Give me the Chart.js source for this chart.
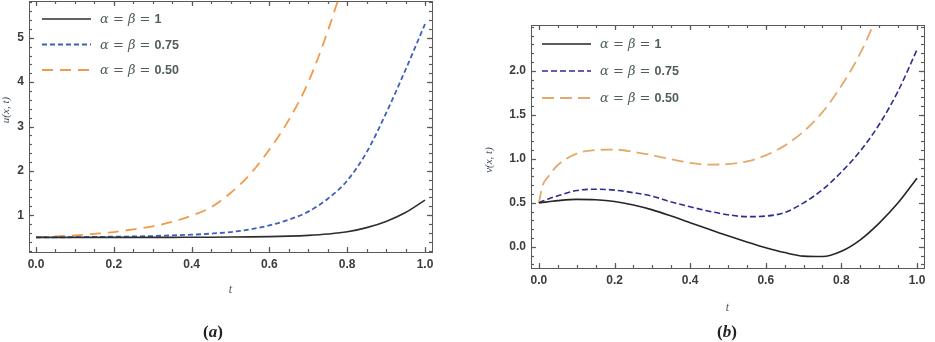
<!DOCTYPE html>
<html><head><meta charset="utf-8">
<script src="https://cdn.jsdelivr.net/npm/chart.js@4.4.1/dist/chart.umd.min.js"></script>
<style>
html,body{margin:0;padding:0;background:#fff;width:935px;height:342px;overflow:hidden;position:relative}
canvas{position:absolute;top:0}
#ca{left:0}
#cb{left:470px}
.cap{position:absolute;top:322px;font:bold 17px 'Liberation Serif',serif;color:#222;transform:translateX(-50%);line-height:20px}
.cap i{font-style:italic}
</style></head><body>
<canvas id="ca" width="470" height="342"></canvas>
<canvas id="cb" width="465" height="342"></canvas>
<div class="cap" style="left:213px">(<i>a</i>)</div>
<div class="cap" style="left:727px">(<i>b</i>)</div>
<script>
// ---------- data ----------
const seriesLabels = ['α = β = 1', 'α = β = 0.75', 'α = β = 0.50'];

// panel (a): u(x,t)
const tA = [0,0.05,0.1,0.15,0.2,0.25,0.3,0.35,0.4,0.45,0.5,0.55,0.6,0.65,0.7,0.75,0.8,0.85,0.9,0.95,1.0];
const uAlpha100 = [0.5,0.5,0.5,0.5,0.5,0.5,0.5,0.5,0.502,0.504,0.507,0.511,0.517,0.527,0.545,0.575,0.625,0.72,0.86,1.06,1.34];
const uAlpha075 = [0.5,0.5,0.505,0.51,0.515,0.52,0.53,0.545,0.56,0.585,0.62,0.68,0.77,0.9,1.08,1.37,1.78,2.42,3.3,4.28,5.31];
const uAlpha050 = [0.5,0.52,0.545,0.58,0.62,0.68,0.75,0.85,0.99,1.18,1.5,1.92,2.48,3.15,4.0,5.15,6.5,null,null,null,null];
const xTicksA = [0,0.2,0.4,0.6,0.8,1.0];
const yTicksA = [1,2,3,4,5];

// panel (b): v(x,t)
const tB = [0,0.01,0.025,0.05,0.1,0.15,0.2,0.25,0.3,0.35,0.4,0.45,0.5,0.55,0.6,0.65,0.7,0.75,0.8,0.85,0.9,0.95,1.0];
const vAlpha100 = [0.5,0.505,0.512,0.525,0.54,0.535,0.515,0.475,0.42,0.35,0.275,0.2,0.125,0.055,-0.01,-0.065,-0.105,-0.11,-0.05,0.08,0.27,0.5,0.78];
const vAlpha075 = [0.5,0.52,0.545,0.58,0.64,0.655,0.645,0.615,0.575,0.51,0.455,0.405,0.365,0.343,0.35,0.39,0.5,0.65,0.85,1.09,1.39,1.77,2.24];
const vAlpha050 = [0.5,0.7,0.8,0.93,1.06,1.1,1.105,1.08,1.04,0.995,0.955,0.935,0.94,0.97,1.04,1.15,1.31,1.53,1.83,2.2,2.68,3.2,null];
const xTicksB = [0,0.2,0.4,0.6,0.8,1.0];
const yTicksB = [0,0.5,1.0,1.5,2.0];

// ---------- helpers ----------
const frameColor = '#5a5a5a';
const tickColor = '#3c3c3c';
const tickFont = {family: "'Liberation Sans', sans-serif", size: 12, weight: 'bold'};

function steps(from, to, step) {
  const r = [];
  for (let i = 0; from + i * step <= to + 1e-9; i++) r.push(+(from + i * step).toFixed(4));
  return r;
}

function build(id, t, series, style, cfg) {
  const datasets = series.map((vals, i) => ({
    label: seriesLabels[i],
    data: t.map((tv, j) => ({x: tv, y: vals[j]})),
    borderColor: style.colors[i], borderDash: style.dashes[i], borderWidth: style.widths[i],
    pointRadius: 0, fill: false, cubicInterpolationMode: 'monotone', spanGaps: false,
    xAxisID: 'x', yAxisID: 'y'
  }));

  // inward frame ticks on all four sides (positions from the chart's own scales)
  const frameTicks = {
    id: 'frameTicks_' + id,
    afterDraw(chart) {
      const ctx = chart.ctx, a = chart.chartArea;
      const x = chart.scales.x, y = chart.scales.y;
      const segs = [];
      const xs = (vals, len) => vals.forEach(v => {
        const p = Math.round(x.getPixelForValue(v)) + 0.5;
        segs.push([p, a.bottom, p, a.bottom - len], [p, a.top, p, a.top + len]);
      });
      const ys = (vals, len) => vals.forEach(v => {
        const p = Math.round(y.getPixelForValue(v)) + 0.5;
        segs.push([a.left, p, a.left + len, p], [a.right, p, a.right - len, p]);
      });
      xs(cfg.xTicks, 5); xs(steps(0, 1, 0.05), 3);
      ys(cfg.yTicks, 5); ys(steps(cfg.yMinor[0], cfg.yMinor[1], cfg.yMinor[2]), 3);
      ctx.save();
      ctx.setLineDash([]);
      ctx.strokeStyle = frameColor;
      ctx.lineWidth = 1.2;
      segs.forEach(s => {
        ctx.beginPath(); ctx.moveTo(s[0], s[1]); ctx.lineTo(s[2], s[3]); ctx.stroke();
      });
      ctx.restore();
    }
  };

  const insideLegend = {
    id: 'insideLegend_' + id,
    afterDraw(chart) {
      const ctx = chart.ctx, o = cfg.legend;
      ctx.save();
      chart.data.datasets.forEach((ds, i) => {
        const yy = o.y0 + i * o.dy;
        ctx.strokeStyle = ds.borderColor; ctx.lineWidth = ds.borderWidth;
        ctx.setLineDash(ds.borderDash || []);
        ctx.beginPath(); ctx.moveTo(o.x, yy); ctx.lineTo(o.x + o.len, yy); ctx.stroke();
        ctx.setLineDash([]);
        const k = ds.label.lastIndexOf('= ') + 2;
        const head = ds.label.slice(0, k), num = ds.label.slice(k);
        ctx.fillStyle = o.color; ctx.textBaseline = 'middle';
        ctx.font = "italic 13px 'DejaVu Serif'";
        ctx.fillText(head, o.tx, yy + 1);
        const w = ctx.measureText(head).width;
        ctx.font = "bold 12.5px 'Liberation Sans'";
        ctx.fillText(num, o.tx + w, yy + 1);
      });
      ctx.restore();
    }
  };

  const yTitle = {
    id: 'yTitle_' + id,
    afterDraw(chart) {
      const ctx = chart.ctx, o = cfg.yTitle;
      ctx.save();
      ctx.translate(o.x, o.y); ctx.rotate(-Math.PI / 2);
      ctx.font = "italic 11px 'Liberation Serif'";
      ctx.fillStyle = o.color; ctx.textAlign = 'center'; ctx.textBaseline = 'middle';
      ctx.fillText(o.text, 0, 0);
      ctx.restore();
    }
  };

  const edge = (pos, fit) => ({
    type: 'linear', position: pos, display: true,
    min: pos === 'top' ? cfg.xMin : cfg.yMin, max: pos === 'top' ? cfg.xMax : cfg.yMax,
    grid: {display: false, drawTicks: false}, ticks: {display: false},
    border: {display: true, color: frameColor, width: 1},
    afterFit: fit
  });

  new Chart(document.getElementById(id), {
    type: 'line',
    data: {datasets},
    options: {
      responsive: false, animation: false, events: [],
      layout: {padding: cfg.padding},
      plugins: {legend: {display: false}, tooltip: {enabled: false}},
      scales: {
        x: {
          type: 'linear', position: 'bottom', min: cfg.xMin, max: cfg.xMax,
          afterBuildTicks: s => { s.ticks = cfg.xTicks.map(v => ({value: v})); },
          afterFit: s => { s.height = 50; s.paddingLeft = 0; s.paddingRight = 0; },
          grid: {display: false, drawTicks: false},
          border: {display: true, color: frameColor, width: 1},
          ticks: {padding: 5, color: tickColor, font: tickFont, autoSkip: false, maxRotation: 0, callback: v => Number(v).toFixed(1)},
          title: {display: true, text: 't', color: '#4a5866', font: {family: "'Liberation Serif', serif", style: 'italic', size: 12}, padding: {top: 0, bottom: cfg.tPad}}
        },
        y: {
          type: 'linear', position: 'left', min: cfg.yMin, max: cfg.yMax,
          afterBuildTicks: s => { s.ticks = cfg.yTicks.map(v => ({value: v})); },
          afterFit: s => { s.width = cfg.yWidth; s.paddingTop = 0; s.paddingBottom = 0; },
          grid: {display: false, drawTicks: false},
          border: {display: true, color: frameColor, width: 1},
          ticks: {padding: 5, color: tickColor, font: tickFont, autoSkip: false, callback: cfg.yFmt}
        },
        x2: edge('top', s => { s.height = 0; s.paddingLeft = 0; s.paddingRight = 0; }),
        y2: edge('right', s => { s.width = 0; s.paddingTop = 0; s.paddingBottom = 0; })
      }
    },
    plugins: [frameTicks, insideLegend, yTitle]
  });
}

build('ca', tA, [uAlpha100, uAlpha075, uAlpha050], {
  colors: ['#2e2e2e', '#3f5fc0', '#f39a4a'],
  dashes: [[], [5, 3], [11, 7]],
  widths: [1.6, 1.8, 1.8]
}, {
  xMin: -0.018, xMax: 1.018, yMin: 0.17, yMax: 5.83,
  xTicks: xTicksA, yTicks: yTicksA, yMinor: [0.2, 5.8, 0.2],
  yFmt: v => String(v),
  yWidth: 29, tPad: 5,
  padding: {left: 0, top: 1, right: 38, bottom: 40},
  legend: {x: 42, y0: 19, dy: 25.5, len: 49, tx: 100, color: '#4f5f55'},
  yTitle: {x: 6, y: 110, text: 'u(x, t)', color: '#3d4a58'}
});

build('cb', tB, [vAlpha100, vAlpha075, vAlpha050], {
  colors: ['#252525', '#2d2d90', '#e3aa6c'],
  dashes: [[], [6, 3], [12, 6]],
  widths: [1.6, 1.6, 1.8]
}, {
  xMin: -0.021, xMax: 1.0185, yMin: -0.24, yMax: 2.52,
  xTicks: xTicksB, yTicks: yTicksB, yMinor: [-0.2, 2.5, 0.1],
  yFmt: v => Number(v).toFixed(1),
  yWidth: 61, tPad: 3,
  padding: {left: 0, top: 25, right: 11, bottom: 24},
  legend: {x: 72, y0: 44, dy: 27, len: 49, tx: 130, color: '#4f5f55'},
  yTitle: {x: 19, y: 160, text: 'v(x, t)', color: '#3d4a58'}
});
</script>
</body></html>
